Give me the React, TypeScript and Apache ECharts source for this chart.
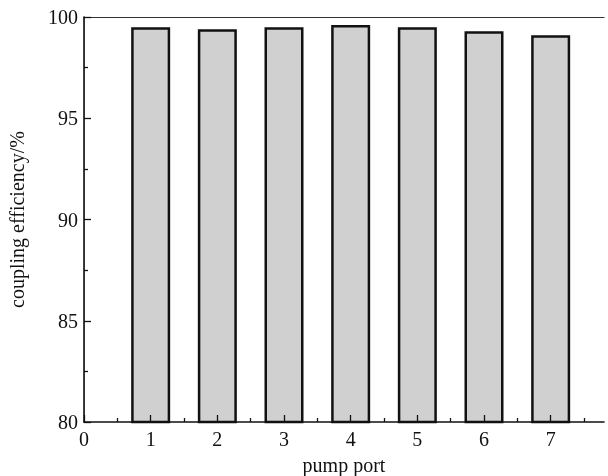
import React, { useEffect, useRef } from "react";
import * as echarts from "echarts";

const ports = [1, 2, 3, 4, 5, 6, 7];
const efficiency = [99.5, 99.4, 99.5, 99.6, 99.5, 99.3, 99.1];
const xTicks = [0, 1, 2, 3, 4, 5, 6, 7];
const yTicks = [80, 85, 90, 95, 100];

const FONT = "Liberation Serif";

export default function App() {
  const ref = useRef<HTMLDivElement>(null);
  useEffect(() => {
    const chart = echarts.init(ref.current!, null, { renderer: "svg" });
    chart.setOption({
      animation: false,
      grid: { left: 84, right: 4, top: 17, bottom: 54, outerBoundsMode: "none", containLabel: false },
      xAxis: [
        {
          type: "value",
          min: 0,
          max: 7.8,
          interval: 1,
          z: 10,
          name: "pump port",
          nameLocation: "middle",
          nameGap: 33,
          nameTextStyle: { fontFamily: FONT, fontSize: 20, color: "#111" },
          axisLine: { show: true, onZero: false, lineStyle: { color: "#111", width: 1.6 } },
          axisTick: { show: true, inside: true, length: 7, customValues: xTicks, lineStyle: { color: "#111", width: 1.3 } },
          minorTick: { show: true, splitNumber: 2, length: 4, lineStyle: { color: "#111", width: 1.3 } },
          axisLabel: {
            fontFamily: FONT,
            fontSize: 20,
            color: "#111",
            margin: 7,
            customValues: xTicks,
          },
          splitLine: { show: false },
        },
        {
          type: "value",
          position: "top",
          min: 0,
          max: 7.8,
          axisLine: { show: true, lineStyle: { color: "#333", width: 1.2 } },
          axisTick: { show: false },
          axisLabel: { show: false },
          splitLine: { show: false },
        },
      ],
      yAxis: [
        {
          type: "value",
          position: "left",
          min: 80,
          max: 100,
          interval: 5,
          z: 10,
          name: "coupling efficiency/%",
          nameLocation: "middle",
          nameGap: 57,
          nameTextStyle: { fontFamily: FONT, fontSize: 20, color: "#111" },
          axisLine: { show: true, onZero: false, lineStyle: { color: "#111", width: 1.6 } },
          axisTick: { show: true, inside: true, length: 7, lineStyle: { color: "#111", width: 1.3 } },
          minorTick: { show: true, splitNumber: 2, length: 4, lineStyle: { color: "#111", width: 1.3 } },
          axisLabel: {
            fontFamily: FONT,
            fontSize: 20,
            color: "#111",
            margin: 6,
            customValues: yTicks,
          },
          splitLine: { show: false },
        },
        {
          type: "value",
          position: "right",
          min: 80,
          max: 100,
          axisLine: { show: true, lineStyle: { color: "#aaa", width: 1 } },
          axisTick: { show: false },
          axisLabel: { show: false },
          splitLine: { show: false },
        },
      ],
      series: [
        {
          type: "bar",
          xAxisIndex: 0,
          yAxisIndex: 0,
          barWidth: 39,
          data: ports.map((p, i) => [p, efficiency[i]]),
          itemStyle: { color: "#d0d0d0", borderColor: "#111", borderWidth: 2.5 },
          z: 1,
        },
      ],
    });
    return () => chart.dispose();
  }, []);
  return (
    <div
      ref={ref}
      style={{ position: "fixed", left: 0, top: 0, width: 608, height: 476 }}
    />
  );
}
